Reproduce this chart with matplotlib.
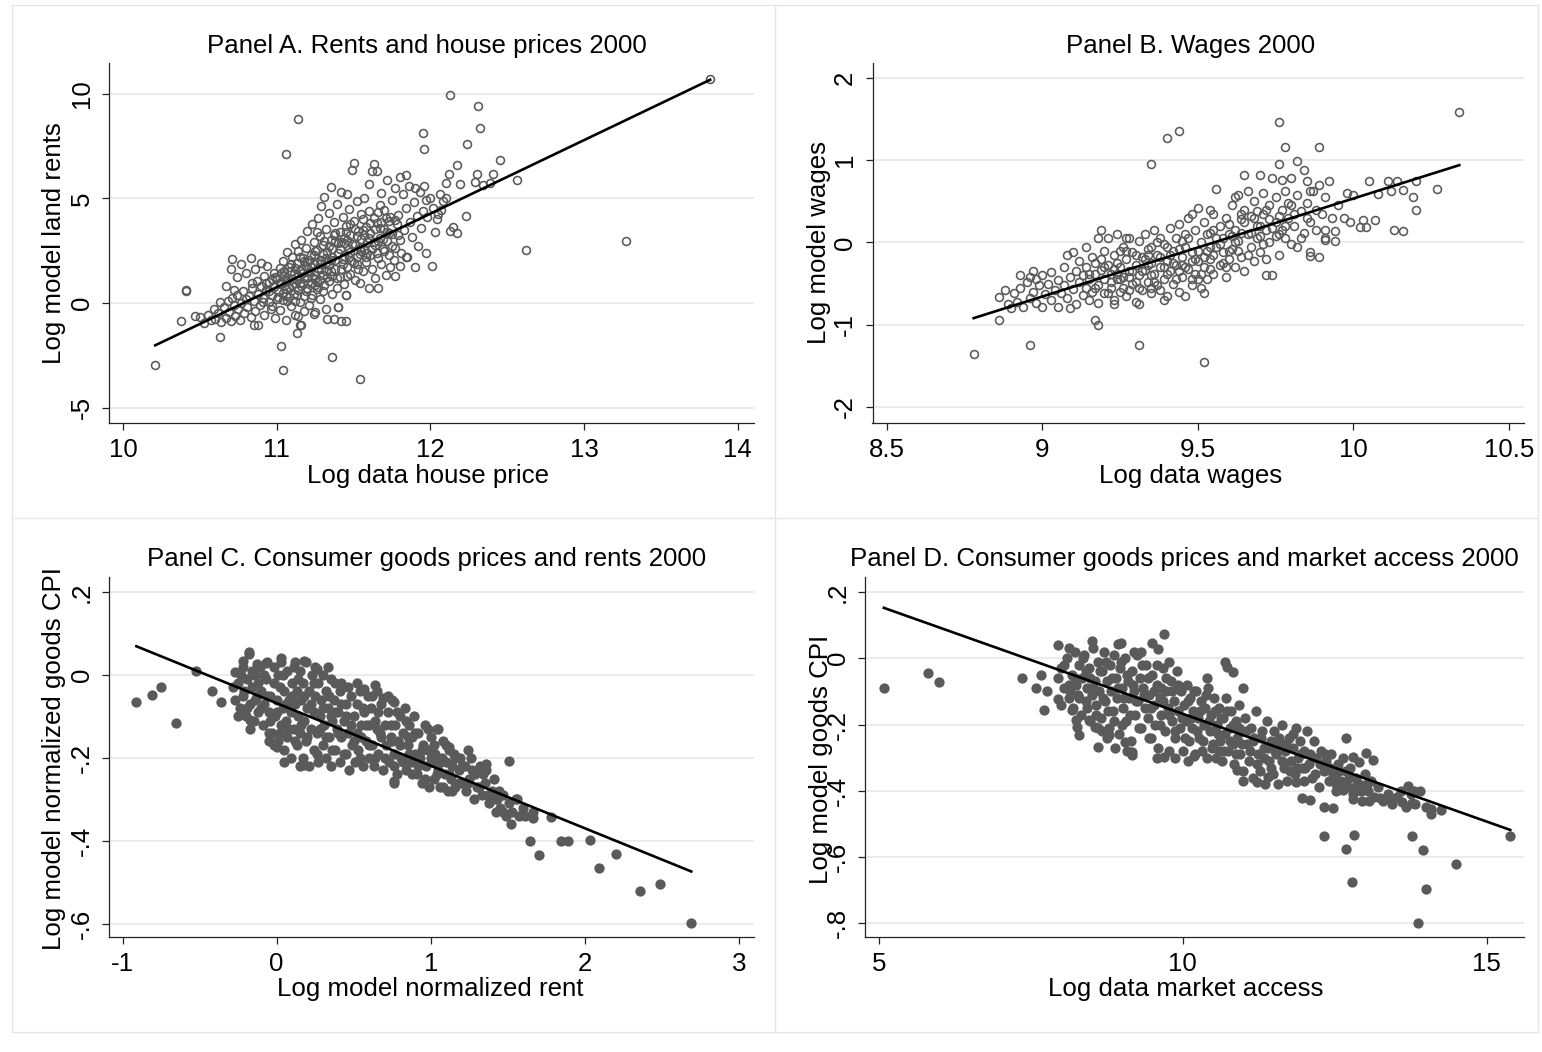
import matplotlib.pyplot as plt
from matplotlib.lines import Line2D

W, H = 1542, 1052
plt.rcParams["font.family"] = ["Liberation Sans", "DejaVu Sans"]
plt.rcParams["font.size"] = 18.6

# ---------------- Panel A: rents vs house prices ----------------
a_pts = [
    (10.50, -0.65), (10.53, -0.95), (10.55, -0.55), (10.57, -0.80), (10.59, -0.30), (10.60, -0.75),
    (10.62, -0.50), (10.63, 0.05), (10.64, -0.90), (10.66, -0.20), (10.67, -0.70), (10.68, 0.10),
    (10.69, -0.45), (10.70, -0.85), (10.71, 0.25), (10.72, -0.10), (10.73, -0.60), (10.74, 0.40),
    (10.75, -0.30), (10.76, -0.80), (10.77, 0.00), (10.78, 0.55), (10.79, -0.50), (10.80, 0.20),
    (10.70, 1.60), (10.71, 2.10), (10.74, 1.25), (10.77, 1.85), (10.80, 1.45), (10.83, 2.15),
    (10.84, 0.95), (10.67, 0.80), (10.72, 0.60),
    (10.81, -0.20), (10.82, 0.35), (10.83, -0.65), (10.84, 0.70), (10.85, 0.10), (10.86, -0.40),
    (10.87, 1.05), (10.88, 0.45), (10.88, -1.05), (10.89, -0.10), (10.90, 0.80), (10.91, 0.25),
    (10.92, 1.30), (10.92, -0.55), (10.93, 0.60), (10.94, 1.75), (10.95, 0.05), (10.95, 1.00),
    (10.96, -0.30), (10.97, 0.40), (10.98, 1.45), (10.98, 0.75), (10.99, -0.70), (11.00, 0.20),
    (10.90, 1.90), (10.86, 1.60), (10.97, 1.15),
    (11.00, 1.20), (11.01, 0.55), (11.02, 1.65), (11.02, -0.35), (11.03, 0.90), (11.04, 0.15),
    (11.04, 2.00), (11.05, 1.30), (11.06, 0.65), (11.06, -0.80), (11.07, 2.45), (11.07, 1.05),
    (11.08, 0.30), (11.08, 1.70), (11.09, -0.15), (11.10, 0.85), (11.10, 2.20), (11.11, 1.40),
    (11.11, 0.45), (11.12, 2.80), (11.12, -0.55), (11.13, 1.10), (11.13, 1.90), (11.14, 0.60),
    (11.14, 2.50), (11.15, 0.05), (11.15, 1.55), (11.16, -1.05), (11.16, 3.00), (11.17, 0.95),
    (11.17, 2.15), (11.18, 1.25), (11.18, 0.35), (11.19, 1.75), (11.19, 2.65), (11.20, 0.70),
    (11.20, 3.45), (11.14, -0.60), (11.18, -0.40), (11.09, 1.55),
    (11.21, 1.50), (11.21, -0.10), (11.22, 2.30), (11.22, 0.95), (11.23, 3.75), (11.23, 0.40),
    (11.24, 1.85), (11.24, 2.90), (11.25, 1.15), (11.25, -0.45), (11.26, 2.55), (11.26, 0.65),
    (11.27, 4.05), (11.27, 1.65), (11.28, 3.20), (11.28, 0.20), (11.29, 2.05), (11.29, 4.65),
    (11.30, 1.35), (11.30, 2.75), (11.31, 0.85), (11.31, 5.08), (11.32, 3.55), (11.32, -0.30),
    (11.33, 1.95), (11.33, 2.45), (11.34, 4.30), (11.34, 1.05), (11.35, 5.55), (11.35, 3.00),
    (11.36, 0.45), (11.36, 2.20), (11.37, -0.76), (11.37, 3.85), (11.38, 1.60), (11.38, 2.95),
    (11.39, 4.75), (11.39, 0.70), (11.40, 2.40), (11.40, -0.20), (11.26, 3.40), (11.30, 0.55),
    (11.34, 1.80), (11.38, 3.35), (11.24, 1.35),
    (11.41, 3.40), (11.41, 1.25), (11.42, 5.30), (11.42, -0.86), (11.43, 2.10), (11.43, 4.10),
    (11.44, 0.90), (11.44, 2.85), (11.45, 3.70), (11.45, 0.38), (11.46, 1.70), (11.46, 5.20),
    (11.47, 2.60), (11.47, 4.50), (11.48, 1.40), (11.48, 3.25), (11.49, 6.35), (11.49, 2.00),
    (11.50, 6.70), (11.50, 3.90), (11.51, 1.10), (11.51, 2.75), (11.52, 4.85), (11.52, 1.85),
    (11.53, 3.45), (11.54, 2.35), (11.54, 0.95), (11.55, 4.25), (11.55, 3.05), (11.56, 1.55),
    (11.57, 2.55), (11.57, 5.00), (11.58, 3.65), (11.58, 1.95), (11.59, 2.90), (11.60, 5.70),
    (11.60, 0.70), (11.60, 4.40), (11.44, 3.10), (11.52, 2.20),
    (11.61, 2.30), (11.61, 3.35), (11.62, 6.30), (11.62, 1.60), (11.63, 6.65), (11.63, 4.05),
    (11.64, 2.75), (11.64, 1.20), (11.65, 6.30), (11.65, 3.80), (11.66, 0.72), (11.66, 2.15),
    (11.67, 4.70), (11.67, 3.10), (11.68, 1.85), (11.68, 5.25), (11.69, 2.60), (11.70, 3.55),
    (11.70, 4.45), (11.71, 1.35), (11.72, 5.86), (11.72, 2.95), (11.73, 2.30), (11.73, 3.90),
    (11.74, 1.70), (11.75, 4.90), (11.75, 3.30), (11.76, 2.05), (11.77, 5.50), (11.77, 2.65),
    (11.78, 3.75), (11.79, 4.20), (11.80, 6.00), (11.80, 1.75), (11.80, 3.00),
    (11.81, 2.40), (11.82, 5.20), (11.83, 3.50), (11.84, 6.10), (11.84, 4.55), (11.85, 2.20),
    (11.86, 5.60), (11.87, 3.85), (11.88, 3.15), (11.89, 4.80), (11.90, 1.74), (11.90, 5.50),
    (11.91, 4.15), (11.92, 2.70), (11.93, 5.30), (11.94, 3.60), (11.95, 4.40), (11.96, 5.60),
    (11.97, 2.37), (11.97, 4.90), (11.98, 4.10), (12.00, 5.00), (12.01, 1.78), (12.02, 4.55),
    (12.03, 3.38), (12.05, 4.24), (12.06, 5.20), (12.08, 4.86), (12.10, 5.00), (12.07, 4.45),
    (12.04, 4.00),
    (11.02, 0.95), (11.05, 1.55), (11.08, 0.75), (11.10, 1.15), (11.12, 1.65), (11.14, 1.30),
    (11.16, 0.80), (11.18, 2.00), (11.20, 1.20), (11.22, 1.70), (11.24, 2.30), (11.26, 1.00),
    (11.28, 1.85), (11.30, 2.35), (11.32, 1.55), (11.34, 2.70), (11.36, 1.30), (11.38, 2.05),
    (11.40, 2.85), (11.42, 1.60), (11.44, 2.25), (11.46, 3.00), (11.48, 2.45), (11.50, 1.90),
    (11.52, 3.20), (11.54, 2.65), (11.56, 3.50), (11.58, 2.20), (11.60, 3.10), (11.62, 2.60),
    (11.64, 3.55), (11.66, 2.95), (11.68, 3.85), (11.70, 2.50), (11.72, 3.40), (11.74, 4.10),
    (11.06, 0.35), (11.15, 0.95), (11.25, 0.85), (11.35, 1.55),
    (10.91, 0.05), (10.93, 0.95), (10.95, 0.55), (10.97, -0.15), (10.99, 1.25), (11.01, 0.30),
    (11.03, 1.45), (11.05, 0.80), (11.07, 0.10), (11.09, 1.85), (11.11, 0.95), (11.13, 0.40),
    (11.15, 2.20), (11.17, 1.45), (11.19, 0.55), (11.21, 2.05), (11.23, 1.25), (11.25, 2.50),
    (11.27, 0.75), (11.29, 1.60), (11.31, 2.95), (11.33, 1.25), (11.35, 2.05), (11.37, 3.25),
    (11.39, 1.20), (11.41, 2.60), (11.43, 1.85), (11.45, 3.40), (11.47, 2.20), (11.49, 2.80),
    (11.51, 3.55), (11.53, 1.60), (11.55, 2.50), (11.57, 3.25), (11.59, 2.40), (11.61, 3.80),
    (11.63, 2.90), (11.65, 2.40), (11.67, 3.60), (11.69, 3.05), (11.71, 4.05), (11.73, 3.35),
    (11.75, 2.70), (11.77, 3.95), (11.79, 3.25), (11.22, 0.25), (11.28, 1.10), (11.32, 2.15),
    (11.42, 2.90), (11.48, 3.75), (11.36, 2.60), (11.26, 1.95), (11.16, 1.60), (11.06, 1.10),
    (11.46, 1.30), (11.56, 4.00), (11.66, 4.35), (11.12, 0.10), (11.04, 0.50), (11.20, 1.95),
    # outlying points
    (12.13, 9.95), (12.31, 9.42), (12.32, 8.34), (11.14, 8.77), (11.06, 7.13), (11.95, 8.13),
    (11.96, 7.35), (12.24, 7.58), (12.45, 6.81), (12.17, 6.57), (12.62, 2.53), (13.27, 2.95),
    (12.56, 5.87), (13.82, 10.70), (10.21, -2.96), (11.03, -2.05), (11.04, -3.22), (11.36, -2.60),
    (11.54, -3.61), (10.63, -1.64), (10.41, 0.64), (10.41, 0.55), (10.38, -0.86), (12.23, 4.15),
    (12.13, 3.45), (12.17, 3.35), (12.15, 3.62), (12.10, 5.75), (12.19, 5.66), (12.29, 5.79),
    (12.30, 6.18), (12.41, 6.18), (12.39, 5.71), (12.34, 5.62), (12.12, 6.17), (11.13, -1.42),
    (11.15, -1.05), (10.85, -1.05), (11.24, -0.54), (11.33, -0.76), (11.45, -0.86), (11.40, -0.21),
    (11.45, 0.38), (10.47, -0.62), (11.84, 2.20), (11.77, 1.30),
]
a_fit_x = [10.21, 13.82]
a_fit_y = [-2.02, 10.66]
a_xticks = [10, 11, 12, 13, 14]
a_xticklabels = ["10", "11", "12", "13", "14"]
a_yticks = [-5, 0, 5, 10]
a_yticklabels = ["-5", "0", "5", "10"]

# ---------------- Panel B: wages ----------------
b_pts = [
    (8.86, -0.66), (8.88, -0.58), (8.89, -0.75), (8.90, -0.80), (8.91, -0.62), (8.92, -0.72),
    (8.93, -0.55), (8.94, -0.78), (8.95, -0.48), (8.96, -0.68), (8.96, -0.42), (8.97, -0.60),
    (8.98, -0.73), (8.98, -0.45), (8.99, -0.52), (9.00, -0.78), (9.00, -0.40), (9.01, -0.63),
    (9.02, -0.50), (9.03, -0.70), (9.03, -0.36), (9.04, -0.58), (9.05, -0.46), (9.05, -0.78),
    (8.93, -0.40), (8.97, -0.35),
    (9.06, -0.62), (9.07, -0.30), (9.07, -0.52), (9.08, -0.68), (9.08, -0.15), (9.09, -0.42),
    (9.10, -0.57), (9.10, -0.12), (9.11, -0.75), (9.11, -0.35), (9.12, -0.48), (9.12, -0.22),
    (9.13, -0.64), (9.13, -0.40), (9.14, -0.55), (9.14, -0.30), (9.15, -0.70), (9.15, -0.45),
    (9.16, -0.18), (9.16, -0.60), (9.17, -0.38), (9.17, -0.25), (9.18, -0.52), (9.18, 0.06),
    (9.18, -0.74), (9.19, -0.33), (9.19, 0.15), (9.20, -0.45), (9.20, -0.62), (9.20, -0.10),
    (9.09, -0.80), (9.14, -0.05),
    (9.21, -0.28), (9.21, 0.05), (9.22, -0.55), (9.22, -0.38), (9.23, -0.15), (9.23, -0.70),
    (9.24, -0.45), (9.24, 0.10), (9.25, -0.30), (9.25, -0.60), (9.26, -0.05), (9.26, -0.42),
    (9.27, -0.20), (9.27, -0.65), (9.28, -0.35), (9.28, 0.05), (9.29, -0.50), (9.29, -0.12),
    (9.30, -0.28), (9.30, -0.72), (9.31, -0.40), (9.31, 0.02), (9.32, -0.18), (9.32, -0.58),
    (9.33, -0.33), (9.33, 0.10), (9.34, -0.48), (9.34, -0.08), (9.35, -0.25), (9.35, -0.62),
    (9.36, -0.38), (9.36, 0.15), (9.37, -0.15), (9.37, -0.52), (9.38, -0.30), (9.38, 0.05),
    (9.39, -0.44), (9.39, -0.02), (9.40, -0.22), (9.40, -0.65), (9.23, -0.75), (9.27, 0.05),
    (9.31, -0.75), (9.35, -0.55), (9.39, -0.70),
    (9.41, -0.35), (9.41, 0.18), (9.42, -0.10), (9.42, -0.50), (9.43, 0.05), (9.43, -0.28),
    (9.44, -0.60), (9.44, 0.22), (9.45, -0.18), (9.45, -0.42), (9.46, 0.10), (9.46, -0.05),
    (9.47, -0.32), (9.47, 0.30), (9.48, -0.52), (9.48, -0.12), (9.49, 0.15), (9.49, -0.38),
    (9.50, -0.22), (9.50, 0.42), (9.51, 0.00), (9.51, -0.55), (9.52, -0.30), (9.52, 0.25),
    (9.53, -0.10), (9.53, -0.45), (9.54, 0.12), (9.54, -0.20), (9.55, 0.35), (9.55, -0.38),
    (9.56, -0.05), (9.56, 0.65), (9.57, 0.20), (9.57, -0.28), (9.58, -0.12), (9.58, 0.05),
    (9.59, 0.30), (9.59, -0.42), (9.60, 0.10), (9.60, -0.20), (9.46, -0.65), (9.52, -0.62),
    (9.54, 0.40), (9.48, 0.35),
    (9.61, 0.45), (9.61, -0.08), (9.62, 0.15), (9.62, -0.30), (9.63, 0.58), (9.63, 0.02),
    (9.64, 0.28), (9.64, -0.18), (9.65, 0.40), (9.65, -0.35), (9.66, 0.10), (9.66, 0.62),
    (9.67, -0.05), (9.67, 0.32), (9.68, 0.50), (9.68, -0.22), (9.69, 0.20), (9.69, 0.05),
    (9.70, 0.82), (9.70, -0.12), (9.71, 0.35), (9.71, 0.60), (9.72, 0.15), (9.72, -0.20),
    (9.73, 0.45), (9.73, 0.00), (9.74, 0.78), (9.74, -0.40), (9.75, 0.25), (9.75, 0.55),
    (9.76, 0.10), (9.76, -0.15), (9.77, 0.40), (9.77, 0.76), (9.78, 0.05), (9.78, 0.62),
    (9.79, 0.30), (9.80, 0.45), (9.80, -0.02), (9.80, 0.78), (9.65, 0.82), (9.62, 0.55),
    (9.81, 0.20), (9.82, 0.58), (9.82, -0.05), (9.83, 0.38), (9.84, 0.12), (9.85, 0.75),
    (9.85, 0.48), (9.86, 0.25), (9.86, -0.12), (9.87, 0.62), (9.88, 0.40), (9.88, 0.15),
    (9.89, 0.70), (9.89, -0.18), (9.90, 0.35), (9.91, 0.55), (9.91, 0.05), (9.92, 0.75),
    (9.93, 0.30), (9.94, 0.14), (9.94, 0.02), (9.95, 0.45), (9.97, 0.30), (9.98, 0.60),
    (9.99, 0.25), (10.00, 0.58), (9.86, 0.62), (9.84, 0.88),
    (9.22, -0.48), (9.24, -0.25), (9.26, -0.55), (9.28, -0.42), (9.30, -0.15), (9.32, -0.35),
    (9.34, -0.28), (9.36, -0.48), (9.38, -0.18), (9.40, -0.38), (9.42, -0.25), (9.44, -0.08),
    (9.46, -0.30), (9.48, -0.22), (9.50, -0.10), (9.52, -0.18), (9.54, -0.32), (9.56, 0.05),
    (9.58, -0.25), (9.60, 0.22), (9.62, 0.00), (9.64, 0.12), (9.66, -0.15), (9.68, 0.30),
    (9.70, 0.08), (9.72, 0.40), (9.74, 0.18), (9.76, 0.32), (9.78, 0.20), (9.25, -0.10),
    (9.35, -0.05), (9.45, 0.02), (9.55, 0.15),
    (9.15, -0.38), (9.17, -0.55), (9.19, -0.20), (9.21, -0.62), (9.23, -0.32), (9.25, -0.45),
    (9.27, -0.10), (9.29, -0.35), (9.31, -0.55), (9.33, -0.20), (9.35, -0.40), (9.37, 0.00),
    (9.39, -0.30), (9.41, -0.15), (9.43, -0.45), (9.45, -0.28), (9.47, 0.05), (9.49, -0.20),
    (9.51, -0.38), (9.53, 0.10), (9.55, -0.15), (9.57, -0.02), (9.59, -0.30), (9.61, 0.08),
    (9.63, -0.10), (9.65, 0.25), (9.67, 0.12), (9.69, 0.38), (9.71, -0.02), (9.73, 0.28),
    (9.75, 0.08), (9.77, 0.15), (9.79, 0.48), (9.81, 0.35), (9.83, 0.05), (9.85, 0.30),
    (9.20, -0.30), (9.30, -0.48), (9.40, -0.05), (9.50, -0.45), (9.60, -0.10), (9.70, 0.20),
    (9.44, -0.35), (9.54, -0.05), (9.64, 0.35), (9.34, -0.15), (9.24, -0.38), (9.28, -0.58),
    (9.38, -0.58), (9.48, -0.45),
    # outlying points
    (9.76, 1.47), (9.40, 1.27), (9.44, 1.35), (9.35, 0.95), (9.78, 1.16), (9.89, 1.16),
    (9.76, 0.95), (9.82, 0.99), (10.34, 1.59), (8.78, -1.35), (8.96, -1.25), (9.31, -1.25),
    (9.52, -1.45), (8.86, -0.94), (9.17, -0.94), (9.18, -1.00), (9.72, -0.39), (9.86, -0.17),
    (9.91, 0.03), (9.91, 0.15), (10.02, 0.19), (10.03, 0.27), (10.13, 0.15), (10.05, 0.75),
    (10.11, 0.75), (10.08, 0.59), (10.12, 0.63), (10.14, 0.75), (10.16, 0.64), (10.20, 0.75),
    (10.19, 0.55), (10.20, 0.39), (10.27, 0.65), (10.16, 0.14), (10.07, 0.27), (10.04, 0.19),
]
b_fit_x = [8.78, 10.34]
b_fit_y = [-0.92, 0.94]
b_xticks = [8.5, 9, 9.5, 10, 10.5]
b_xticklabels = ["8.5", "9", "9.5", "10", "10.5"]
b_yticks = [-2, -1, 0, 1, 2]
b_yticklabels = ["-2", "-1", "0", "1", "2"]

# ---------------- Panel C: goods prices vs rents ----------------
c_pts = [
    (-0.28, -0.03), (-0.27, -0.06), (-0.25, -0.02), (-0.24, -0.08), (-0.22, 0.02), (-0.22, -0.05),
    (-0.20, -0.10), (-0.19, -0.01), (-0.18, 0.05), (-0.17, -0.07), (-0.16, -0.03), (-0.15, -0.11),
    (-0.14, 0.00), (-0.13, -0.05), (-0.12, -0.09), (-0.11, 0.02), (-0.10, -0.04), (-0.09, -0.12),
    (-0.08, -0.07), (-0.07, -0.01), (-0.06, 0.03), (-0.05, -0.09), (-0.04, -0.05), (-0.03, -0.14),
    (-0.02, -0.02), (-0.01, -0.10), (0.00, -0.06), (-0.17, -0.13),
    (0.01, -0.16), (0.01, 0.00), (0.02, -0.03), (0.03, -0.12), (0.03, 0.03), (0.04, -0.08),
    (0.05, -0.18), (0.05, -0.04), (0.06, -0.11), (0.07, 0.01), (0.07, -0.15), (0.08, -0.06),
    (0.09, -0.09), (0.09, -0.20), (0.10, -0.02), (0.11, -0.13), (0.11, 0.02), (0.12, -0.07),
    (0.13, -0.17), (0.13, -0.04), (0.14, -0.10), (0.15, 0.01), (0.15, -0.14), (0.16, -0.06),
    (0.17, -0.20), (0.17, -0.02), (0.18, -0.11), (0.19, 0.03), (0.19, -0.16), (0.20, -0.08),
    (0.21, -0.04), (0.21, -0.22), (0.22, -0.13), (0.23, 0.00), (0.24, -0.09), (0.24, -0.18),
    (0.25, -0.05), (0.26, -0.14), (0.27, -0.02), (0.27, -0.21), (0.28, -0.10), (0.29, -0.06),
    (0.30, -0.17), (0.30, 0.00), (-0.05, -0.16),
    (0.31, -0.12), (0.32, -0.04), (0.32, -0.20), (0.33, -0.08), (0.34, -0.15), (0.35, -0.01),
    (0.35, -0.22), (0.36, -0.11), (0.37, -0.06), (0.38, -0.18), (0.38, -0.02), (0.39, -0.13),
    (0.40, -0.09), (0.41, -0.21), (0.41, -0.04), (0.42, -0.15), (0.43, -0.03), (0.44, -0.11),
    (0.45, -0.19), (0.45, -0.07), (0.46, -0.14), (0.47, -0.23), (0.48, -0.05), (0.49, -0.17),
    (0.50, -0.10), (0.51, -0.21), (0.52, -0.07), (0.52, -0.14), (0.53, -0.18), (0.54, -0.04),
    (0.55, -0.12), (0.56, -0.22), (0.57, -0.09), (0.58, -0.16), (0.59, -0.05), (0.60, -0.20),
    (0.60, -0.12),
    (0.61, -0.08), (0.62, -0.17), (0.63, -0.22), (0.64, -0.11), (0.65, -0.04), (0.66, -0.19),
    (0.67, -0.14), (0.68, -0.07), (0.69, -0.23), (0.70, -0.12), (0.71, -0.17), (0.72, -0.09),
    (0.73, -0.21), (0.74, -0.15), (0.75, -0.06), (0.76, -0.19), (0.77, -0.12), (0.78, -0.24),
    (0.79, -0.16), (0.80, -0.10), (0.81, -0.20), (0.82, -0.14), (0.83, -0.08), (0.84, -0.23),
    (0.85, -0.17), (0.86, -0.12), (0.87, -0.21), (0.88, -0.15), (0.89, -0.10), (0.90, -0.19),
    (0.76, -0.26),
    (0.91, -0.24), (0.92, -0.14), (0.93, -0.20), (0.94, -0.26), (0.95, -0.17), (0.96, -0.12),
    (0.97, -0.22), (0.98, -0.18), (0.99, -0.27), (1.00, -0.15), (1.01, -0.21), (1.02, -0.25),
    (1.03, -0.19), (1.04, -0.13), (1.05, -0.23), (1.06, -0.27), (1.07, -0.20), (1.08, -0.16),
    (1.09, -0.24), (1.10, -0.21), (1.11, -0.28), (1.12, -0.18), (1.13, -0.25), (1.14, -0.22),
    (1.15, -0.19), (1.16, -0.27), (1.18, -0.23), (1.19, -0.20), (1.20, -0.26),
    (1.22, -0.22), (1.23, -0.28), (1.25, -0.25), (1.26, -0.20), (1.28, -0.30), (1.29, -0.24),
    (1.30, -0.27), (1.32, -0.22), (1.33, -0.29), (1.35, -0.26), (1.36, -0.23), (1.38, -0.31),
    (1.40, -0.28), (1.42, -0.33), (1.43, -0.30), (1.45, -0.32), (1.47, -0.29), (1.49, -0.34),
    (1.51, -0.31), (1.53, -0.33), (1.55, -0.30), (1.57, -0.34), (1.60, -0.32),
    (-0.21, -0.04), (-0.19, -0.08), (-0.16, 0.01), (-0.14, -0.06), (-0.12, -0.02), (-0.10, -0.08),
    (-0.08, 0.00), (-0.06, -0.05), (-0.04, -0.11), (-0.02, 0.02), (0.00, -0.09), (0.02, -0.14),
    (0.04, 0.00), (0.06, -0.07), (0.08, -0.13), (0.10, -0.05), (0.12, -0.16), (0.14, -0.01),
    (0.16, -0.12), (0.18, -0.05), (0.20, -0.15), (0.22, -0.07), (0.24, -0.02), (0.26, -0.19),
    (0.28, -0.13), (0.30, -0.08), (0.32, -0.15), (0.34, -0.05), (0.36, -0.18), (0.38, -0.09),
    (0.40, -0.14), (0.42, -0.07), (0.44, -0.19), (0.46, -0.03), (0.48, -0.12), (0.50, -0.16),
    (0.52, -0.02), (0.54, -0.20), (0.56, -0.08), (0.58, -0.12), (0.60, -0.17), (0.62, -0.05),
    (0.64, -0.20), (0.66, -0.09), (0.68, -0.15), (0.70, -0.20), (0.72, -0.05), (0.74, -0.12),
    (0.76, -0.22), (0.78, -0.09), (0.80, -0.17), (0.82, -0.21), (0.84, -0.11), (0.86, -0.19),
    (0.88, -0.24), (0.90, -0.14), (0.92, -0.22), (0.94, -0.18), (0.96, -0.25), (0.98, -0.13),
    (1.00, -0.20), (1.02, -0.17), (1.04, -0.24), (1.06, -0.21), (1.08, -0.27), (1.10, -0.17),
    (1.12, -0.24), (1.14, -0.28), (1.16, -0.20), (1.18, -0.26), (1.20, -0.22), (1.24, -0.26),
    (1.27, -0.23), (1.31, -0.27), (1.34, -0.24), (1.37, -0.29), (1.41, -0.25), (1.44, -0.28),
    (0.05, -0.21), (0.15, -0.22), (0.25, 0.02), (0.12, 0.03), (-0.25, -0.10), (-0.23, 0.00),
    (0.35, -0.10), (0.45, -0.10), (0.55, -0.15), (0.65, -0.13), (0.75, -0.16), (0.85, -0.15),
    # outlying points
    (-0.91, -0.065), (-0.81, -0.048), (-0.75, -0.030), (-0.65, -0.115), (-0.52, 0.010),
    (-0.42, -0.038), (-0.36, -0.066), (-0.27, 0.006), (-0.22, 0.034), (-0.18, 0.055),
    (-0.13, 0.026), (-0.07, 0.029), (0.03, 0.041), (0.18, 0.034), (0.26, 0.013), (0.33, 0.020),
    (-0.17, -0.109), (-0.05, -0.139), (-0.02, -0.169), (0.00, -0.173), (0.18, -0.217),
    (0.42, -0.020), (0.57, -0.035), (0.64, -0.024), (0.69, -0.056), (0.76, -0.065),
    (0.76, -0.255), (1.05, -0.131), (1.12, -0.173), (1.24, -0.181), (1.36, -0.216), (1.51, -0.208),
    (1.645, -0.401), (1.70, -0.435), (1.845, -0.401), (1.89, -0.401), (2.03, -0.399),
    (2.09, -0.465), (2.20, -0.432), (2.36, -0.522), (2.49, -0.505), (2.69, -0.599),
    (1.66, -0.331), (1.66, -0.345), (1.78, -0.342), (1.42, -0.30), (1.47, -0.33), (1.52, -0.36),
    (1.56, -0.30), (1.61, -0.34),
]
c_fit_x = [-0.91, 2.69]
c_fit_y = [0.069, -0.474]
c_xticks = [-1, 0, 1, 2, 3]
c_xticklabels = ["-1", "0", "1", "2", "3"]
c_yticks = [-0.6, -0.4, -0.2, 0, 0.2]
c_yticklabels = ["-.6", "-.4", "-.2", "0", ".2"]

# ---------------- Panel D: goods prices vs market access ----------------
d_pts = [
    (7.95, -0.06), (8.00, -0.03), (8.05, -0.09), (8.10, 0.00), (8.13, -0.12), (8.18, -0.05),
    (8.20, -0.15), (8.22, 0.02), (8.25, -0.08), (8.28, -0.11), (8.30, -0.02), (8.33, -0.17),
    (8.35, -0.06), (8.38, 0.01), (8.40, -0.13), (8.42, -0.09), (8.45, -0.03), (8.48, -0.19),
    (8.50, -0.11), (8.52, 0.03), (8.55, -0.07), (8.58, -0.14), (8.60, -0.01), (8.00, -0.14),
    (8.12, -0.08),
    (8.62, -0.10), (8.65, -0.18), (8.67, -0.04), (8.70, 0.02), (8.72, -0.13), (8.75, -0.07),
    (8.78, -0.21), (8.80, -0.02), (8.82, -0.10), (8.85, -0.16), (8.87, 0.01), (8.90, -0.06),
    (8.92, -0.12), (8.95, -0.23), (8.97, -0.03), (9.00, -0.09), (9.02, -0.15), (9.05, 0.00),
    (9.07, -0.19), (9.10, -0.07), (9.12, -0.12), (9.15, -0.25), (9.17, -0.04), (9.20, -0.10),
    (9.22, -0.17), (9.25, 0.01), (9.27, -0.13), (9.30, -0.06), (9.32, -0.21), (9.35, -0.09),
    (9.38, -0.15), (9.40, -0.02), (8.88, -0.27), (9.08, -0.28), (8.75, -0.24),
    (9.42, -0.18), (9.45, -0.11), (9.47, -0.24), (9.50, -0.05), (9.52, -0.14), (9.55, -0.20),
    (9.57, -0.08), (9.60, -0.27), (9.62, -0.12), (9.65, -0.17), (9.67, -0.03), (9.70, -0.22),
    (9.72, -0.10), (9.75, -0.15), (9.77, -0.28), (9.80, -0.07), (9.82, -0.19), (9.85, -0.13),
    (9.87, -0.24), (9.90, -0.04), (9.92, -0.16), (9.95, -0.21), (9.97, -0.10), (10.00, -0.28),
    (10.02, -0.14), (10.05, -0.19), (10.07, -0.08), (10.10, -0.25), (10.12, -0.12), (10.15, -0.21),
    (10.17, -0.16), (10.20, -0.29), (9.58, -0.30), (9.88, -0.30), (10.08, -0.31),
    (10.22, -0.10), (10.25, -0.18), (10.27, -0.24), (10.30, -0.13), (10.32, -0.28), (10.35, -0.20),
    (10.37, -0.15), (10.40, -0.30), (10.42, -0.09), (10.45, -0.22), (10.47, -0.17), (10.50, -0.26),
    (10.52, -0.12), (10.55, -0.30), (10.57, -0.20), (10.60, -0.15), (10.62, -0.25), (10.65, -0.31),
    (10.67, -0.18), (10.70, -0.23), (10.72, -0.12), (10.75, -0.28), (10.77, -0.21), (10.80, -0.16),
    (10.82, -0.26), (10.85, -0.32), (10.87, -0.19), (10.90, -0.24), (10.92, -0.14), (10.95, -0.29),
    (10.97, -0.22), (11.00, -0.34),
    (11.03, -0.18), (11.06, -0.26), (11.09, -0.31), (11.12, -0.21), (11.15, -0.36), (11.18, -0.24),
    (11.21, -0.16), (11.24, -0.29), (11.27, -0.34), (11.30, -0.22), (11.33, -0.27), (11.36, -0.38),
    (11.39, -0.19), (11.42, -0.31), (11.45, -0.25), (11.48, -0.35), (11.51, -0.22), (11.54, -0.29),
    (11.57, -0.38), (11.60, -0.26), (11.63, -0.20), (11.66, -0.33), (11.69, -0.28), (11.72, -0.37),
    (11.75, -0.24), (11.78, -0.31), (11.81, -0.27), (11.84, -0.35), (11.87, -0.21), (11.90, -0.30),
    (11.93, -0.25), (11.96, -0.33), (12.00, -0.28),
    (12.04, -0.22), (12.08, -0.32), (12.12, -0.36), (12.16, -0.25), (12.20, -0.30), (12.24, -0.39),
    (12.28, -0.28), (12.32, -0.34), (12.36, -0.31), (12.40, -0.37), (12.44, -0.29), (12.48, -0.35),
    (12.52, -0.40), (12.56, -0.32), (12.60, -0.37), (12.64, -0.30), (12.68, -0.34), (12.72, -0.39),
    (12.76, -0.33), (12.80, -0.41), (12.85, -0.36), (12.90, -0.38), (12.95, -0.43), (13.00, -0.35),
    (13.05, -0.40), (13.10, -0.37), (13.15, -0.42),
    (13.22, -0.39), (13.30, -0.43), (13.38, -0.41), (13.45, -0.44), (13.52, -0.42), (13.60, -0.40),
    (13.68, -0.45), (13.75, -0.41), (13.82, -0.44), (13.90, -0.40), (14.00, -0.45), (14.08, -0.47),
    (8.05, -0.02), (8.15, -0.10), (8.22, -0.06), (8.30, -0.12), (8.36, 0.00), (8.43, -0.15),
    (8.47, -0.06), (8.53, -0.09), (8.57, -0.17), (8.63, -0.04), (8.68, -0.12), (8.73, -0.01),
    (8.77, -0.16), (8.83, -0.06), (8.87, -0.19), (8.93, -0.09), (8.98, -0.01), (9.03, -0.12),
    (9.08, -0.05), (9.13, -0.17), (9.18, -0.08), (9.23, -0.13), (9.28, -0.21), (9.33, -0.02),
    (9.37, -0.11), (9.43, -0.06), (9.48, -0.15), (9.53, -0.10), (9.58, -0.02), (9.63, -0.20),
    (9.68, -0.13), (9.73, -0.06), (9.78, -0.17), (9.83, -0.10), (9.88, -0.22), (9.93, -0.08),
    (9.98, -0.18), (10.03, -0.24), (10.08, -0.13), (10.13, -0.18), (10.18, -0.10), (10.23, -0.22),
    (10.28, -0.16), (10.33, -0.25), (10.38, -0.11), (10.43, -0.19), (10.48, -0.27), (10.53, -0.16),
    (10.58, -0.23), (10.63, -0.18), (10.68, -0.28), (10.73, -0.16), (10.78, -0.25), (10.83, -0.20),
    (10.88, -0.29), (10.93, -0.21), (10.98, -0.26), (11.04, -0.22), (11.10, -0.28), (11.16, -0.25),
    (11.22, -0.32), (11.28, -0.24), (11.34, -0.30), (11.40, -0.27), (11.46, -0.33), (11.52, -0.28),
    (11.58, -0.24), (11.64, -0.31), (11.70, -0.26), (11.76, -0.34), (11.82, -0.23), (11.88, -0.33),
    (11.94, -0.29), (12.02, -0.33), (12.10, -0.29), (12.18, -0.35), (12.26, -0.32), (12.34, -0.29),
    (12.42, -0.33), (12.50, -0.36), (12.58, -0.34), (12.66, -0.38), (12.74, -0.36), (12.84, -0.39),
    (12.94, -0.40), (13.04, -0.38), (9.00, -0.20), (9.20, 0.02), (9.45, -0.24), (9.65, -0.09),
    (10.40, -0.06), (10.60, -0.28), (8.40, -0.04), (8.60, -0.21),
    # outlying points
    (7.35, -0.060), (7.58, -0.090), (7.72, -0.156), (7.67, -0.050), (7.77, -0.098), (7.94, -0.122),
    (7.95, 0.040), (8.13, 0.030), (8.50, 0.053), (8.94, 0.043), (8.98, 0.047), (9.50, 0.045),
    (9.60, 0.027), (9.69, 0.073), (9.32, 0.018), (9.78, -0.012), (10.70, -0.012), (10.73, -0.025),
    (10.82, -0.043), (11.00, -0.089), (8.17, -0.156), (8.25, -0.186), (8.26, -0.206), (8.30, -0.231),
    (8.45, -0.186), (8.56, -0.206), (8.67, -0.221), (8.79, -0.231), (8.61, -0.268), (9.05, -0.252),
    (9.16, -0.282), (9.16, -0.292), (9.69, -0.297), (10.19, -0.295), (10.89, -0.337),
    (11.00, -0.369), (11.23, -0.372), (11.41, -0.359), (11.86, -0.372), (11.99, -0.370),
    (11.96, -0.422), (12.33, -0.448), (12.69, -0.241), (12.81, -0.297), (12.90, -0.312),
    (13.01, -0.287), (13.13, -0.307), (12.52, -0.380), (12.64, -0.397), (12.80, -0.424),
    (13.07, -0.432), (13.24, -0.422), (13.42, -0.427), (13.61, -0.435), (13.78, -0.437),
    (14.08, -0.455), (13.70, -0.384), (13.80, -0.402),
    (5.08, -0.090), (5.81, -0.045), (5.99, -0.071), (15.39, -0.535), (14.25, -0.458),
    (14.50, -0.620), (14.01, -0.697), (13.87, -0.798), (13.96, -0.578), (13.78, -0.535),
    (12.78, -0.674), (12.69, -0.577), (12.82, -0.533), (12.32, -0.535), (12.47, -0.453),
    (12.10, -0.427),
]
d_fit_x = [5.08, 15.39]
d_fit_y = [0.152, -0.518]
d_xticks = [5, 10, 15]
d_xticklabels = ["5", "10", "15"]
d_yticks = [-0.8, -0.6, -0.4, -0.2, 0, 0.2]
d_yticklabels = ["-.8", "-.6", "-.4", "-.2", "0", ".2"]

# ---------------- figure ----------------
fig = plt.figure(figsize=(W / 100, H / 100), dpi=100)


def fx(px):
    return px / W


def fy(py):
    return 1 - py / H


# light frame around the four sub-graphs
frame_col = "#e6e6e6"
for x0, y0, x1, y1 in [(12, 5, 1538, 5), (12, 1032, 1538, 1032), (12, 5, 12, 1032),
                       (1538, 5, 1538, 1032), (775, 5, 775, 1032), (12, 518, 1538, 518)]:
    fig.add_artist(Line2D([fx(x0), fx(x1)], [fy(y0), fy(y1)], color=frame_col, lw=1.0))

mark_col = "#5a5a5a"


def draw_panel(box, pts, fit_x, fit_y, xlim, ylim, xt, xtl, yt, ytl, filled,
               title, title_pos, xlabel, xlabel_pos, ylabel, ylabel_pos):
    left, right, top, bottom = box
    ax = fig.add_axes([fx(left), fy(bottom), (right - left) / W, (bottom - top) / H])
    xs = [p[0] for p in pts]
    ys = [p[1] for p in pts]
    if filled:
        ax.plot(xs, ys, "o", ms=7.4, color=mark_col, mec="none", zorder=3)
    else:
        ax.plot(xs, ys, "o", ms=5.7, mfc="none", mec=mark_col, mew=1.15, zorder=3)
    ax.plot(fit_x, fit_y, color="black", lw=1.9, zorder=4)
    ax.set_xlim(*xlim)
    ax.set_ylim(*ylim)
    ax.set_xticks(xt)
    ax.set_xticklabels(xtl)
    ax.set_yticks(yt)
    ax.set_yticklabels(ytl, rotation=90, va="center")
    for y in yt:
        ax.axhline(y, color="#e8e8e8", lw=1.2, zorder=1)
    for s in ["top", "right"]:
        ax.spines[s].set_visible(False)
    for s in ["left", "bottom"]:
        ax.spines[s].set_linewidth(0.9)
        ax.spines[s].set_color("#222222")
    ax.tick_params(axis="both", length=5, width=0.9, color="#222222", labelsize=18.6, pad=6)
    fig.text(fx(title_pos[0]), fy(title_pos[1]), title, ha="center", va="baseline", fontsize=18.6)
    fig.text(fx(xlabel_pos[0]), fy(xlabel_pos[1]), xlabel, ha="center", va="baseline", fontsize=18.6)
    fig.text(fx(ylabel_pos[0]), fy(ylabel_pos[1]), ylabel, ha="center", va="center",
             rotation=90, fontsize=18.6)
    return ax


draw_panel((109, 754, 63, 423), a_pts, a_fit_x, a_fit_y, (9.909, 14.105), (-5.73, 11.46),
           a_xticks, a_xticklabels, a_yticks, a_yticklabels, False,
           "Panel A. Rents and house prices 2000", (427, 53),
           "Log data house price", (428, 483), "Log model land rents", (54, 243))

draw_panel((872.5, 1524, 63, 423), b_pts, b_fit_x, b_fit_y, (8.455, 10.548), (-2.195, 2.182),
           b_xticks, b_xticklabels, b_yticks, b_yticklabels, False,
           "Panel B. Wages 2000", (1191, 53),
           "Log data wages", (1191, 483), "Log model wages", (819, 243))

draw_panel((109, 754, 577, 937), c_pts, c_fit_x, c_fit_y, (-1.0876, 3.097), (-0.632, 0.236),
           c_xticks, c_xticklabels, c_yticks, c_yticklabels, True,
           "Panel C. Consumer goods prices and rents 2000", (426.5, 566),
           "Log model normalized rent", (430, 996), "Log model normalized goods CPI", (54, 759))

draw_panel((865, 1524, 577, 937), d_pts, d_fit_x, d_fit_y, (4.770, 15.617), (-0.841, 0.245),
           d_xticks, d_xticklabels, d_yticks, d_yticklabels, True,
           "Panel D. Consumer goods prices and market access 2000", (1184, 566),
           "Log data market access", (1186, 996), "Log model goods CPI", (821, 759))

fig.savefig("out.png", dpi=100, facecolor="white")
